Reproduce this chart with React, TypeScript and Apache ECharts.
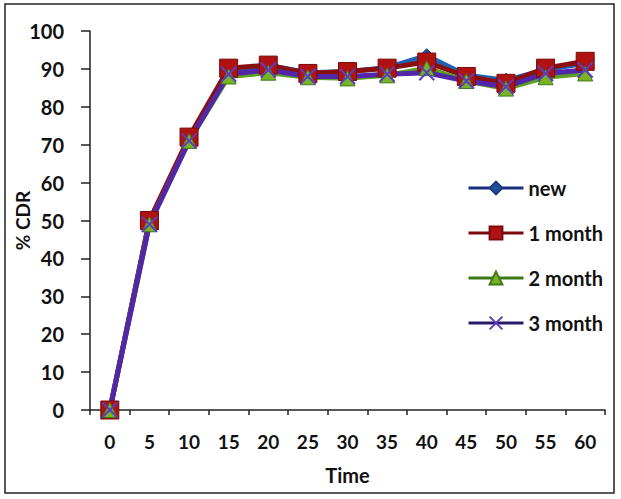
import React, { useEffect, useRef } from "react";
import * as echarts from "echarts";

const categories = ["0", "5", "10", "15", "20", "25", "30", "35", "40", "45", "50", "55", "60"];
const seriesNew = [0, 50, 71, 89.5, 91, 89, 89.3, 90.3, 93.5, 88.3, 87, 89.8, 91.5];
const series1Month = [0, 50, 72, 90.2, 91, 88.8, 89.3, 90.2, 91.8, 88, 86.2, 90.2, 92];
const series2Month = [0, 49, 71, 88, 89, 87.8, 87.5, 88.3, 90.2, 86.8, 84.8, 87.8, 88.8];
const series3Month = [0, 49, 71, 88.6, 89.7, 88, 88, 88.6, 89, 86.8, 85.3, 88.8, 89.7];
const yTicks = { min: 0, max: 100, interval: 10 };

const FONT = "Lato";

export default function App() {
  const ref = useRef<HTMLDivElement>(null);
  useEffect(() => {
    if (!ref.current) return;
    const chart = echarts.init(ref.current, null, { renderer: "svg" });
    const lineW = 5;
    chart.setOption({
      animation: false,
      backgroundColor: "#ffffff",
      textStyle: { fontFamily: FONT },
      graphic: [
        {
          type: "rect",
          shape: { x: 5, y: 4, width: 609, height: 489 },
          style: { fill: "none", stroke: "#222", lineWidth: 1.5 },
          z: -1,
        },
      ],
      grid: { left: 90, right: 16, top: 31, bottom: 89, containLabel: false },
      legend: {
        orient: "vertical",
        left: 462,
        top: 173,
        itemWidth: 55,
        itemHeight: 16,
        itemGap: 25,
        lineStyle: { width: 3 },
        textStyle: { fontFamily: FONT, fontWeight: "bold", fontSize: 20, color: "#111" },
        data: [
          { name: "new", lineStyle: { color: "#1a2e80" } },
          { name: "1 month", lineStyle: { color: "#7a0a0a" } },
          { name: "2 month", lineStyle: { color: "#3f7a1a" } },
          { name: "3 month", lineStyle: { color: "#2a1a6a" } },
        ],
      },
      xAxis: {
        type: "category",
        data: categories,
        boundaryGap: true,
        name: "Time",
        nameLocation: "middle",
        nameGap: 55,
        nameTextStyle: { fontFamily: FONT, fontWeight: "bold", fontSize: 20, color: "#111" },
        axisLine: { lineStyle: { color: "#222", width: 1.5 } },
        axisTick: { show: true, inside: false, length: 5, lineStyle: { color: "#222", width: 1.5 } },
        axisLabel: { margin: 22, fontFamily: FONT, fontWeight: "bold", fontSize: 19, color: "#111" },
        splitLine: { show: false },
      },
      yAxis: {
        type: "value",
        min: yTicks.min,
        max: yTicks.max,
        interval: yTicks.interval,
        name: "% CDR",
        nameLocation: "middle",
        nameGap: 58,
        nameMoveOverlap: false,
        nameTextStyle: { fontFamily: FONT, fontWeight: "bold", fontSize: 19, color: "#111" },
        axisLine: { show: true, lineStyle: { color: "#222", width: 1.5 } },
        axisTick: { show: true, inside: false, length: 9, lineStyle: { color: "#222", width: 1.5 } },
        axisLabel: { margin: 26, fontFamily: FONT, fontWeight: "bold", fontSize: 20, color: "#111" },
        splitLine: { show: false },
      },
      series: [
        {
          name: "new",
          type: "line",
          data: seriesNew,
          symbol: "diamond",
          symbolSize: 14,
          lineStyle: { color: "#1f62b8", width: lineW },
          itemStyle: { color: "#1f4e9e", borderColor: "#1a3a80", borderWidth: 1 },
        },
        {
          name: "1 month",
          type: "line",
          data: series1Month,
          symbol: "rect",
          symbolSize: 18,
          lineStyle: { color: "#8a1010", width: lineW },
          itemStyle: { color: "#b01212", borderColor: "#7a0a0a", borderWidth: 1 },
        },
        {
          name: "2 month",
          type: "line",
          data: series2Month,
          symbol: "triangle",
          symbolSize: 15,
          lineStyle: { color: "#5aa022", width: lineW },
          itemStyle: { color: "#78b422", borderColor: "#3f7a1a", borderWidth: 1 },
        },
        {
          name: "3 month",
          type: "line",
          data: series3Month,
          symbol: "path://M0,0L10,10M10,0L0,10",
          symbolSize: 15,
          lineStyle: { color: "#5226a8", width: lineW },
          itemStyle: { color: "transparent", borderColor: "#5b3cc4", borderWidth: 2 },
        },
      ],
    });
    return () => chart.dispose();
  }, []);
  return <div ref={ref} style={{ width: 621, height: 499, position: "absolute", left: 0, top: 0 }} />;
}
